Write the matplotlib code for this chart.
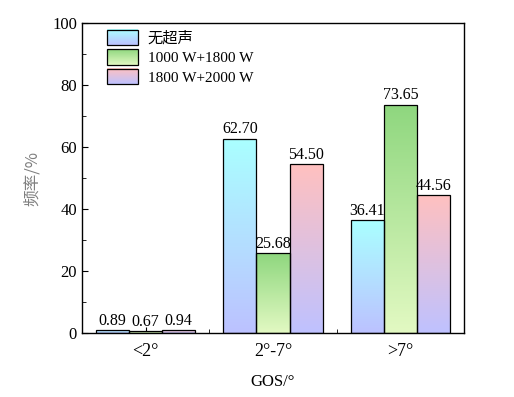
import matplotlib
matplotlib.use("Agg")
import matplotlib.pyplot as plt
import numpy as np
from matplotlib.colors import LinearSegmentedColormap
from matplotlib.legend_handler import HandlerBase
from matplotlib.patches import Rectangle
from matplotlib.image import BboxImage
from matplotlib.transforms import Bbox, TransformedBbox

categories = ["<2°", "2°-7°", ">7°"]
series_names = ["无超声", "1000 W+1800 W", "1800 W+2000 W"]
no_ultrasound = [0.89, 62.70, 36.41]
w1000_1800 = [0.67, 25.68, 73.65]
w1800_2000 = [0.94, 54.50, 44.56]
value_labels = [["0.89", "62.70", "36.41"], ["0.67", "25.68", "73.65"], ["0.94", "54.50", "44.56"]]

# (top colour, bottom colour) for each series
gradients = [("#aaffff", "#bcc2ff"), ("#8fd77f", "#e2f9c2"), ("#ffc0c0", "#bfc2ff")]

plt.rcParams["font.family"] = ["Liberation Serif", "Noto Sans CJK SC"]


def grad_cmap(top, bottom):
    return LinearSegmentedColormap.from_list("g", [bottom, top])


class GradientHandler(HandlerBase):
    def __init__(self, top, bottom):
        super().__init__()
        self.cmap = grad_cmap(top, bottom)

    def create_artists(self, legend, orig_handle, xdescent, ydescent, width, height, fontsize, trans):
        bb = Bbox.from_bounds(-xdescent, -ydescent, width, height)
        img = BboxImage(TransformedBbox(bb, trans), cmap=self.cmap, interpolation="bicubic")
        img.set_data(np.linspace(1, 0, 64).reshape(-1, 1))
        img.set_clim(0, 1)
        rect = Rectangle((-xdescent, -ydescent), width, height, facecolor="none",
                         edgecolor="black", linewidth=0.9, transform=trans)
        return [img, rect]


fig = plt.figure(figsize=(5.14, 3.97), dpi=100)
ax = fig.add_axes([0.1595, 0.1612, 0.7432, 0.7808])

x = np.arange(len(categories))
width = 0.26
all_series = [no_ultrasound, w1000_1800, w1800_2000]
handles = []
for i, vals in enumerate(all_series):
    top, bottom = gradients[i]
    cmap = grad_cmap(top, bottom)
    xs = x + (i - 1) * width
    bars = ax.bar(xs, vals, width, facecolor="none", edgecolor="black", linewidth=0.9, zorder=3)
    for b, lab in zip(bars, value_labels[i]):
        x0, h = b.get_x(), b.get_height()
        im = ax.imshow(np.linspace(1, 0, 64).reshape(-1, 1), cmap=cmap, vmin=0, vmax=1,
                       extent=[x0, x0 + width, 0, h], aspect="auto", interpolation="bicubic", zorder=2)
        im.set_clip_path(b)
        ax.text(x0 + width / 2, h + 0.4, lab, ha="center", va="bottom", fontsize=11.5)
    handles.append(Rectangle((0, 0), 1, 1))

ax.set_xlim(-0.5, 2.5)
ax.set_ylim(0, 100)
ax.set_xticks(x)
ax.set_xticks([-0.5, 0.5, 1.5, 2.5], minor=True)
ax.set_xticklabels(categories, fontsize=13)
ax.set_yticks(np.arange(0, 101, 20))
ax.set_yticks(np.arange(10, 100, 20), minor=True)
ax.tick_params(axis="both", which="both", direction="in")
ax.tick_params(axis="y", labelsize=12)
ax.tick_params(axis="both", which="major", length=4)
ax.tick_params(axis="both", which="minor", length=3)
ax.tick_params(axis="x", pad=7)
for s in ax.spines.values():
    s.set_linewidth(1.0)

ax.set_xlabel("GOS/°", fontsize=12, labelpad=10)
ax.set_ylabel("频率/%", fontsize=12, color="#7f7f7f", family=["Noto Sans CJK SC"], labelpad=8)

ax.legend(handles, series_names, loc="upper left", bbox_to_anchor=(0.042, 1.008), frameon=False,
          fontsize=11, handlelength=2.0, handleheight=1.15, labelspacing=0.26, handletextpad=0.65,
          borderaxespad=0.2,
          handler_map={h: GradientHandler(*gradients[i]) for i, h in enumerate(handles)})

fig.savefig("out.png", dpi=100)
